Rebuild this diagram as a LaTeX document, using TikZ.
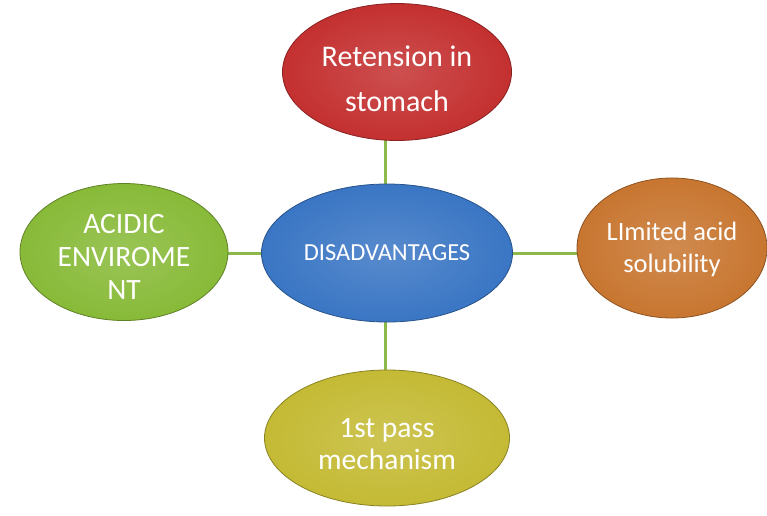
\documentclass[tikz,border=0pt]{standalone}
\usepackage{fontspec}
\setmainfont{Carlito}
\usetikzlibrary{shapes.geometric,backgrounds}
\definecolor{redb}{RGB}{196,48,48}
\definecolor{blueb}{RGB}{58,118,196}
\definecolor{orangeb}{RGB}{200,118,48}
\definecolor{greenb}{RGB}{136,186,56}
\definecolor{yellowb}{RGB}{196,186,52}
\definecolor{linkg}{RGB}{140,186,74}

\begin{document}
\begin{tikzpicture}[x=1pt,y=-1pt,
    bubble/.style={ellipse, inner sep=0pt, align=center, text=white,
        draw=#1!70!black, line width=0.8pt, shading=radial,
        inner color=#1!85!white, outer color=#1},
    words/.style={align=center, text=white, inner sep=0pt},
    link/.style={draw=linkg, line width=3pt}]
    \useasboundingbox (0,0) rectangle (767,515);
    \node[bubble=blueb, minimum width=251pt, minimum height=138pt,
          font=\fontsize{24.5}{28}\selectfont] (dis) at (387,253) {DISADVANTAGES};
    \node[bubble=redb, minimum width=229pt, minimum height=137pt] (ret) at (397,72) {};
    \node[words, font=\fontsize{30}{45}\selectfont] (rettext) at (397,79) {Retension in\\stomach};
                \node[bubble=greenb, minimum width=208pt, minimum height=137pt] (acid) at (124,252) {};
                \node[words, font=\fontsize{29.5}{33}\selectfont] (acidtext) at (124,257) {ACIDIC\\ENVIROME\\NT};
                \node[bubble=orangeb, minimum width=190pt, minimum height=140pt] (sol) at (672,248) {};
                \node[words, font=\fontsize{26.5}{32}\selectfont] (soltext) at (672,249) {LImited acid\\solubility};
                \node[bubble=yellowb, minimum width=245pt, minimum height=136pt] (pass) at (387,438) {};
                \node[words, font=\fontsize{29.5}{32}\selectfont] (passtext) at (387,444) {1st pass\\mechanism};
    \begin{pgfonlayer}{background}
    \draw[link] ([xshift=-2pt]dis.north) -- ([xshift=-2pt]dis.north |- ret.center);
    \draw[link] ([xshift=-2pt]dis.south) -- ([xshift=-2pt]dis.south |- pass.center);
    \draw[link] (acid.center |- dis.center) -- (dis.center);
    \draw[link] (dis.center) -- (sol.center |- dis.center);
    \end{pgfonlayer}
\end{tikzpicture}
\end{document}
